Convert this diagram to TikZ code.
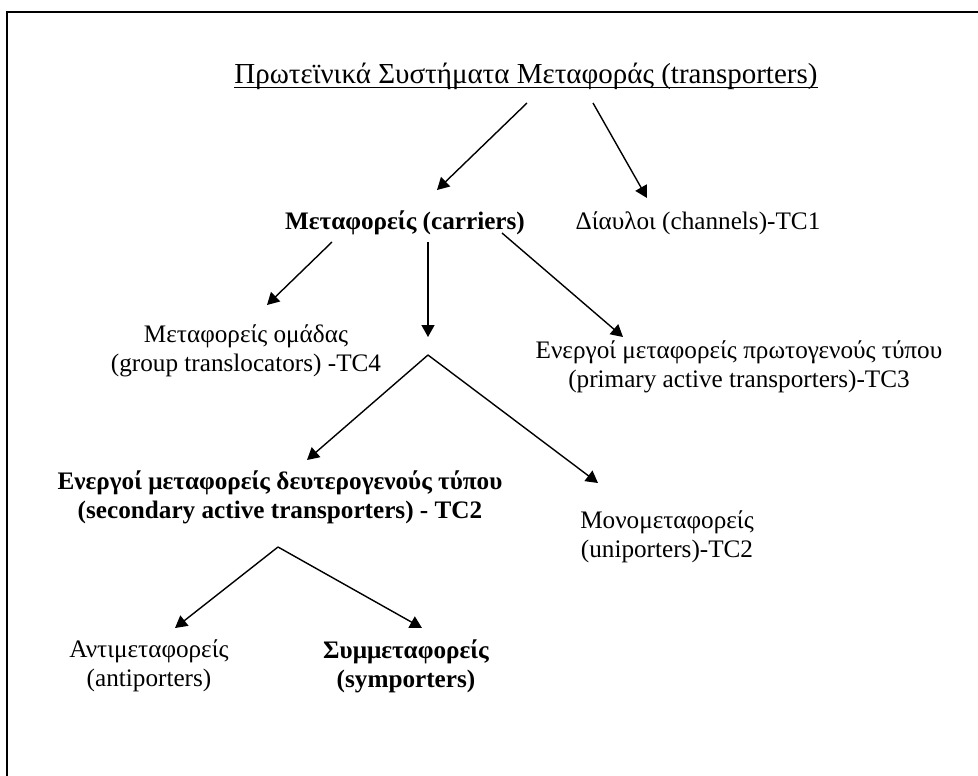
\documentclass[tikz,border=0pt]{standalone}
\usepackage{fontspec}
\setmainfont{Liberation Serif}
\usetikzlibrary{arrows.meta}
\begin{document}
\begin{tikzpicture}[x=1pt,y=-1pt,
  lbl/.style={inner sep=0pt, align=center, font=\fontsize{25.2}{29}\selectfont},
  bl/.style={lbl, font=\fontsize{25.2}{29}\selectfont\bfseries},
  arr/.style={line width=1.4pt, -{Triangle[length=12pt,width=13pt]}}]
\useasboundingbox (0,0) rectangle (978,776);
\fill[white] (0,0) rectangle (978,776);
\draw[line width=2pt] (7,776) -- (7,12) -- (978,12);

\node[lbl, font=\fontsize{29}{33}\selectfont] (title) at (526,76) {Πρωτεϊνικά Συστήματα Μεταφοράς (transporters)};
\draw[line width=1.1pt] ([yshift=-4pt]title.base west) -- ([yshift=-4pt]title.base east);

\node[bl] (carr) at (405,223) {Μεταφορείς (carriers)};
\node[lbl] (chan) at (698,223) {Δίαυλοι (channels)-TC1};
\node[lbl] (group) at (246,351) {Μεταφορείς ομάδας\\(group translocators) -TC4};
\node[lbl] (prim) at (739,367) {Ενεργοί μεταφορείς πρωτογενούς τύπου\\(primary active transporters)-TC3};
\node[bl] (sec) at (280,497) {Ενεργοί μεταφορείς δευτερογενούς τύπου\\(secondary active transporters) - TC2};
\node[lbl] (uni) at (667,537) {Μονομεταφορείς\\(uniporters)-TC2};
\node[lbl] (anti) at (149,666) {Αντιμεταφορείς\\(antiporters)};
\node[bl] (sym) at (406,666) {Συμμεταφορείς\\(symporters)};

\coordinate (t1) at (527,103);
\coordinate (t2) at (593,103);
\coordinate (c1) at (437,190);
\coordinate (c2) at (647,198);
\coordinate (g0) at (332,242);
\coordinate (g1) at (267,305);
\coordinate (d0) at (428,242);
\coordinate (d1) at (428,337);
\coordinate (p0) at (502,233);
\coordinate (p1) at (623,337);
\coordinate (peak) at (428,355);
\coordinate (s1) at (307,460);
\coordinate (u1) at (598,483);
\coordinate (peak2) at (278,547);
\coordinate (a1) at (175,628);
\coordinate (y1) at (422,628);

\draw[arr] (t1) -- (c1);
\draw[arr] (t2) -- (c2);
\draw[arr] (g0) -- (g1);
\draw[arr] (d0) -- (d1);
\draw[arr] (p0) -- (p1);
\draw[arr] (peak) -- (s1);
\draw[arr] (peak) -- (u1);
\draw[arr] (peak2) -- (a1);
\draw[arr] (peak2) -- (y1);
\end{tikzpicture}
\end{document}
